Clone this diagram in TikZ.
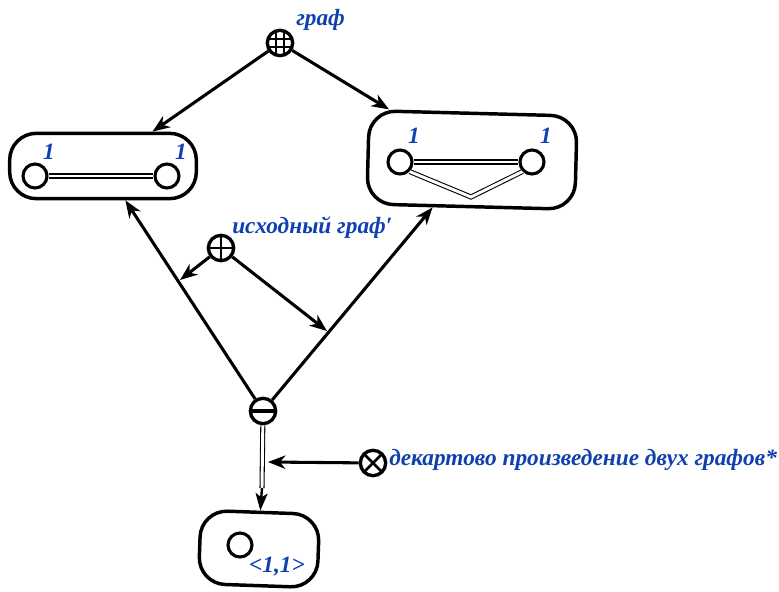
\documentclass[tikz,border=0pt]{standalone}
\usepackage{fontspec}
\setmainfont{Liberation Serif}
\usetikzlibrary{arrows.meta,calc}
\definecolor{lblue}{RGB}{16,64,176}
\begin{document}
\begin{tikzpicture}[x=0.75pt,y=-0.75pt,
  lbl/.style={font=\fontsize{17.5}{20}\selectfont\bfseries\itshape, text=lblue, inner sep=0pt},
  vtx/.style={circle, draw, line width=2.3pt, minimum size=18pt, inner sep=0pt},
  sym/.style={circle, draw, line width=2.5pt, minimum size=19pt, inner sep=0pt},
  gbox/.style={draw, line width=2.6pt, rounded corners=20pt, inner sep=0pt},
  arr/.style={line width=2.3pt, -{Stealth[length=13pt,width=10pt,inset=4pt]}},
  dbl/.style={line width=0.8pt, double, double distance=2.2pt},
]
\useasboundingbox (0,0) rectangle (779,592);

% symbols
\node[sym, path picture={
  \draw[line width=1.5pt] ([xshift=-3pt]path picture bounding box.north) -- ([xshift=-3pt]path picture bounding box.south);
  \draw[line width=1.5pt] ([xshift=3pt]path picture bounding box.north) -- ([xshift=3pt]path picture bounding box.south);
  \draw[line width=1.5pt] ([yshift=-3pt]path picture bounding box.west) -- ([yshift=-3pt]path picture bounding box.east);
  \draw[line width=1.5pt] ([yshift=3pt]path picture bounding box.west) -- ([yshift=3pt]path picture bounding box.east);
}] (grid) at (280,43) {};
\node[sym, path picture={
  \draw[line width=2pt] (path picture bounding box.north) -- (path picture bounding box.south);
  \draw[line width=2pt] (path picture bounding box.west) -- (path picture bounding box.east);
}] (plus) at (221,248) {};
\node[sym, path picture={
  \draw[line width=2.3pt] (path picture bounding box.west) -- (path picture bounding box.east);
}] (minus) at (263,411) {};
\node[sym, path picture={
  \draw[line width=2pt] (path picture bounding box.north west) -- (path picture bounding box.south east);
  \draw[line width=2pt] (path picture bounding box.south west) -- (path picture bounding box.north east);
}] (times) at (373,463) {};

% labels of symbols
\node[lbl, anchor=west] (tgraf) at (296,20) {граф};
\node[lbl, anchor=west] (tisx) at (232,228) {исходный граф′};
\node[lbl, anchor=west] (tdek) at (389,460) {декартово произведение двух графов*};

% box 1
\node[gbox, minimum width=140pt, minimum height=49pt] (box1) at (103,166) {};
\node[vtx] (a1) at (35,176) {};
\node[vtx] (a2) at (167,176) {};
\node[lbl] (la1) at (49,152) {1};
\node[lbl] (la2) at (181,152) {1};
\draw[dbl] (a1) -- (a2);

% box 2
\node[gbox, rotate=-1.5, minimum width=156pt, minimum height=70pt] (box2) at (472,160) {};
\node[vtx] (b1) at (400,162) {};
\node[vtx] (b2) at (532,162) {};
\node[lbl] (lb1) at (414,136) {1};
\node[lbl] (lb2) at (546,136) {1};
\coordinate (bv) at (471,197);
\draw[dbl] (b1) -- (b2);
\draw[dbl, line join=miter] (b1.south east) -- (bv) -- (b2.south west);

% box 3
\node[gbox, rotate=-2, minimum width=89pt, minimum height=55pt] (box3) at (259,549) {};
\node[vtx] (c1) at (240,545) {};
\node[lbl] (lc1) at (277,567) {<1,1>};

% connectors
\draw[arr] (grid) -- (box1);
\draw[arr] (grid) -- (box2);
\draw[arr] (minus) -- (box1);
\draw[arr] (minus) -- (box2);
\coordinate (pL) at (180,280);
\coordinate (pR) at (327,331);
\draw[arr] (plus) -- (pL);
\draw[arr] (plus) -- (pR);
\coordinate (dm) at (262,488);
\draw[dbl] (minus) -- (dm);
\draw[line width=1.8pt, -{Stealth[length=13pt,width=9pt,inset=3pt]}] (dm) -- (box3.north);
\coordinate (tm) at (268,462);
\draw[arr] (times) -- (tm);
\end{tikzpicture}
\end{document}
